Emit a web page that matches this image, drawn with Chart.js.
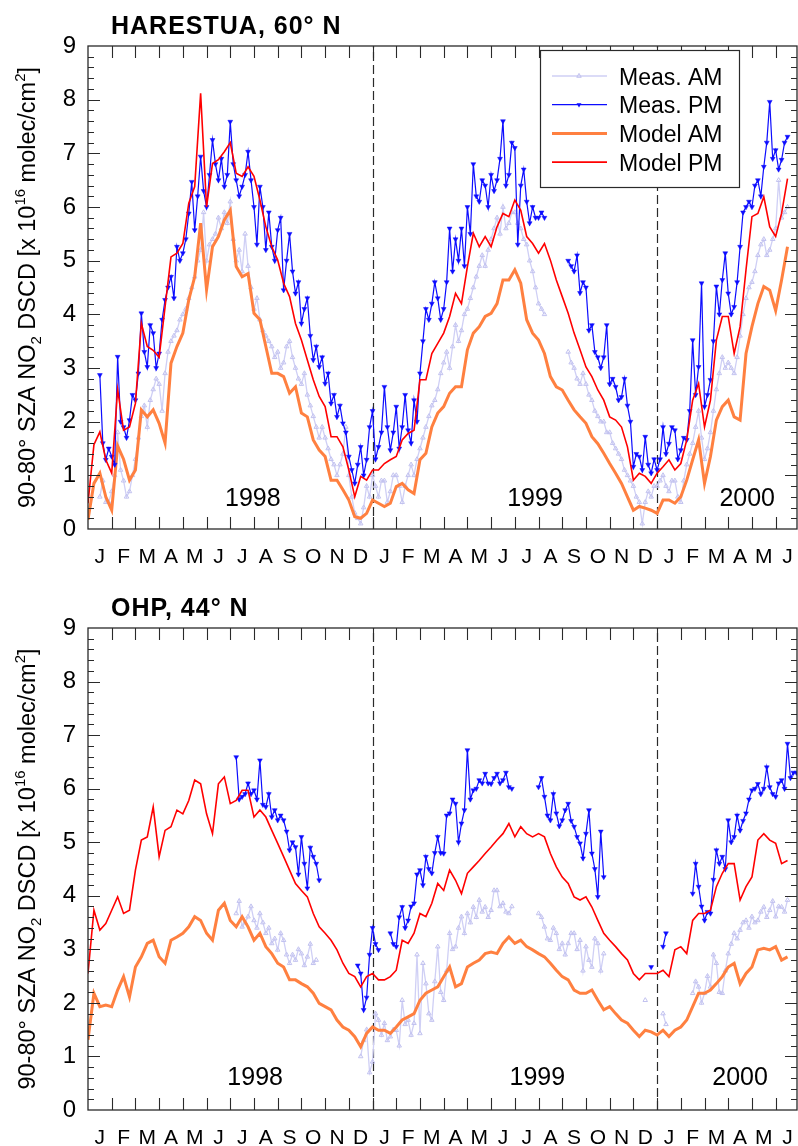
<!DOCTYPE html>
<html>
<head>
<meta charset="utf-8">
<script src="https://cdn.jsdelivr.net/npm/chart.js@4.4.1/dist/chart.umd.min.js"></script>
<style>
  html, body { margin: 0; padding: 0; background: #fff; }
  #wrap { position: relative; width: 798px; height: 1146px; }
  canvas { position: absolute; left: 0; }
  #topChart { top: 0; }
  #botChart { top: 573px; }
</style>
</head>
<body>
<div id="wrap">
  <canvas id="topChart" width="798" height="573"></canvas>
  <canvas id="botChart" width="798" height="573"></canvas>
</div>
<script>
const FONT = "'Liberation Sans', Arial, Helvetica, sans-serif";
const monthLetters = ['J', 'F', 'M', 'A', 'M', 'J', 'J', 'A', 'S', 'O', 'N', 'D'];
const measStep = 0.125;  // months between measurement samples, sample 0 = 1 Jan 1998
const modelStep = 0.25;  // months between model samples
const xMax = 29.9;

// Harestua (60 N), one row per month
const harMeasAM = [
  null, null, null, null, 0.6, 0.9, 0.5, 0.5,
  0.7, 1.0, 1.8, 1.1, 0.9, 0.6, 0.7, 1.0,
  1.3, 1.7, 2.1, 2.3, 1.9, 2.4, 2.6, 2.8,
  2.7, 2.2, 2.9, 3.3, 3.5, 3.6, 3.7, 3.9,
  4.0, 4.1, 4.3, 4.5, 4.7, 5.0, 5.2, 5.9,
  5.0, 5.3, 5.4, 5.5, 5.8, 5.6, 5.9, 5.7,
  6.1, 5.4, 5.0, 5.2, 4.8, 5.5, 4.9, 4.5,
  4.1, 4.3, 3.9, 3.7, 3.6, 3.5, 3.4, 3.2,
  3.3, 3.0, 3.1, 3.4, 3.5, 3.2, 3.0, 2.8,
  2.7, 2.9, 2.5, 2.3, 2.1, 1.9, 1.7, 1.9,
  1.7, 1.5, 1.3, 1.2, 1.0, 1.2, 1.4, 1.9,
  1.0, 0.6, 0.3, 0.2, 0.1, 0.4, 0.8, 0.6,
  1.0, 0.8, 0.6, 0.9, 0.9, 0.5, 0.7, 1.0,
  1.0, 0.8, 0.5, 0.8, 1.0, 1.2, 1.0, 1.3,
  1.5, 1.7, 1.9, 2.1, 2.3, 2.4, 2.6, 2.9,
  3.1, 3.3, 3.0, 3.4, 3.8, 3.5, 3.7, 4.0,
  4.1, 4.3, 4.5, 4.7, 4.9, 5.1, 4.9, 5.2,
  5.4, 5.6, 5.8, 5.5, 6.0, 5.6, 5.7, 5.9,
  5.9, 5.7, 5.6, 5.4, 5.3, 5.0, 4.8, 4.5,
  4.2, 4.1, 4.0, null, null, null, null, null,
  null, null, 3.3, 3.1, 3.0, 2.8, 2.7, 2.9,
  2.7, 2.5, 2.4, 2.2, 2.1, 2.0, 2.0, 1.8,
  1.8, 1.6, 1.5, 1.4, 1.3, 1.1, 1.0, 0.9,
  0.8, 0.6, 0.5, 0.1, 0.5, 0.7, 0.6, 0.8,
  0.8, 0.9, 1.0, 0.8, 0.7, 0.9, 0.9, 0.6,
  0.5, 0.9, 1.2, 1.4, 1.6, 1.9, 2.2, 1.7,
  1.3, 1.5, 1.8, 2.2, 2.6, 2.9, 3.2, 3.0,
  3.1, 3.0, 2.9, 3.2, 3.6, 4.0, 4.3, 4.5,
  4.6, 4.8, 5.1, 5.3, 5.4, 5.1, 5.2, 5.4,
  5.6, 6.5, 5.8, 5.9, 6.0, null, null, null
];
const harMeasPM = [
  null, null, null, null, 2.87, 1.6, 1.29, 1.5,
  1.35, 1.2, 3.21, 2.0, 1.9, 1.7, 2.03, 2.5,
  2.4, 2.9, 4.02, 3.3, 3.02, 3.8, 3.65, 3.0,
  3.27, 3.9, 4.27, 4.5, 4.7, 4.3, 5.26, 5.0,
  5.14, 5.4, 5.88, 6.47, 5.57, 6.2, 6.94, 6.3,
  6.0, 6.6, 7.25, 6.8, 6.5, 6.9, 6.38, 6.6,
  7.59, 6.8, 6.5, 6.2, 6.38, 6.6, 7.03, 6.5,
  6.0, 5.3, 6.38, 6.0, 5.2, 5.9, 5.26, 5.0,
  5.57, 5.8, 4.45, 5.0, 5.5, 4.8, 4.39, 4.6,
  3.83, 4.1, 4.3, 3.6, 3.15, 3.4, 3.02, 3.2,
  2.71, 2.9, 2.34, 2.5, 2.09, 2.3, 1.97, 1.8,
  1.35, 1.1, 0.85, 1.2, 1.53, 1.0, 1.29, 1.9,
  2.2, 1.3, 1.53, 1.8, 2.65, 1.9, 1.47, 1.8,
  2.28, 1.5, 1.9, 2.5, 1.84, 1.6, 2.4, 2.0,
  2.9, 3.5, 4.1, 3.9, 4.2, 4.6, 4.3, 3.9,
  4.1, 4.6, 5.6, 4.8, 5.4, 5.0, 5.6, 4.9,
  6.0, 5.5, 6.8, 6.2, 6.1, 6.5, 6.4, 6.0,
  6.6, 6.3, 6.5, 6.9, 7.6, 6.4, 6.6, 7.2,
  7.1, 5.3, 6.4, 6.7, 6.1, 5.7, 6.0, 5.8,
  5.8, 5.9, 5.8, null, null, null, null, null,
  null, null, 5.0, 4.9, 4.8, 5.1, 4.4, 4.6,
  4.5, 3.7, 3.8, 3.3, 3.2, 3.0, 3.2, 3.8,
  2.7, 2.8, 2.65, 2.4, 2.46, 2.8, 2.3, 2.0,
  1.16, 1.4, 1.35, 1.1, 1.72, 1.2, 1.04, 1.3,
  1.1, 1.3, 1.9, 1.4, 1.59, 1.9, 1.84, 1.3,
  1.47, 1.7, 1.66, 2.2, 3.52, 2.5, 3.02, 4.58,
  2.28, 2.5, 2.78, 3.5, 4.52, 4.0, 4.64, 5.14,
  4.39, 4.0, 4.14, 4.6, 5.26, 5.9, 6.0, 6.1,
  6.0, 6.4, 6.5, 6.2, 6.75, 7.2, 7.96, 6.9,
  7.06, 6.7, 6.88, 7.2, 7.31, null, null, null
];
// model rows: three months per row
const harModelAM = [
  0.17, 0.85, 1.04, 0.6, 0.35, 1.55, 1.3, 0.91, 1.1, 2.22, 2.09, 2.22,
  1.97, 1.6, 3.09, 3.4, 3.65, 4.27, 4.7, 5.7, 4.46, 5.26, 5.45, 5.76,
  5.94, 4.89, 4.7, 4.76, 4.02, 3.9, 3.4, 2.9, 2.9, 2.84, 2.53, 2.65,
  2.16, 2.09, 1.66, 1.47, 1.35, 0.91, 0.91, 0.73, 0.54, 0.23, 0.2, 0.29,
  0.54, 0.48, 0.42, 0.48, 0.79, 0.85, 0.73, 0.66, 1.29, 1.41, 1.9, 2.16,
  2.28, 2.53, 2.65, 2.65, 3.34, 3.65, 3.77, 3.96, 4.02, 4.2, 4.64, 4.64,
  4.83, 4.58, 3.9, 3.65, 3.52, 3.27, 2.84, 2.65, 2.59, 2.4, 2.22, 2.09,
  1.97, 1.72, 1.59, 1.41, 1.22, 1.04, 0.85, 0.6, 0.35, 0.42, 0.39, 0.35,
  0.29, 0.54, 0.54, 0.48, 0.6, 0.91, 1.29, 1.66, 0.85, 1.35, 2.03, 2.28,
  2.4, 2.09, 2.03, 3.27, 3.77, 4.2, 4.52, 4.45, 4.07, 4.64, 5.26, null
];
const harModelPM = [
  0.48, 1.57, 1.81, 1.29, 1.04, 2.6, 1.84, 1.9, 2.34, 3.83, 3.4, 3.33,
  3.2, 4.14, 5.07, 5.14, 5.32, 6.07, 6.38, 8.12, 6.0, 6.81, 6.88, 7.03,
  7.2, 6.63, 6.57, 6.75, 6.57, 6.13, 5.63, 5.26, 5.01, 4.58, 4.33, 3.83,
  3.52, 3.15, 2.78, 2.47, 2.28, 1.72, 1.72, 1.53, 1.1, 0.6, 0.98, 0.91,
  1.1, 1.1, 1.22, 1.29, 1.35, 1.66, 1.78, 1.84, 2.78, 2.78, 3.27, 3.46,
  3.65, 3.96, 4.39, 4.2, 4.89, 5.51, 5.26, 5.45, 5.26, 5.63, 5.88, 5.82,
  6.13, 5.94, 5.45, 5.32, 5.14, 5.32, 5.01, 4.64, 4.33, 4.02, 3.65, 3.34,
  3.02, 2.84, 2.59, 2.4, 2.09, 2.03, 1.9, 1.53, 0.91, 1.04, 0.98, 0.85,
  1.04, 1.16, 1.29, 1.1, 1.22, 1.66, 2.4, 2.71, 1.9, 2.4, 3.52, 3.96,
  3.96, 3.27, 3.77, 4.83, 5.82, 5.88, 6.19, 5.63, 5.45, 5.88, 6.53, null
];

// OHP (44 N)
const ohpMeasAM = [
  null, null, null, null, null, null, null, null,
  null, null, null, null, null, null, null, null,
  null, null, null, null, null, null, null, null,
  null, null, null, null, null, null, null, null,
  null, null, null, null, null, null, null, null,
  null, null, null, null, null, null, null, null,
  null, null, 3.67, 3.9, 3.42, 3.5, 3.61, 3.8,
  3.54, 3.4, 3.67, 3.5, 3.3, 3.4, 3.11, 3.2,
  2.99, 3.3, 3.17, 2.9, 2.74, 2.9, 2.8, 3.0,
  2.92, 2.7, 2.86, 3.1, 2.74, 2.8, null, null,
  null, null, null, null, null, null, null, null,
  null, null, null, null, 1.0, 1.3, 1.5, 0.7,
  0.9, 1.8, 1.68, 1.4, 1.62, 1.3, 1.37, 1.5,
  1.49, 1.2, 2.05, 1.6, 1.68, 1.4, 1.62, 2.9,
  1.43, 2.74, 2.36, 1.8, 1.68, 2.4, 3.05, 2.2,
  2.05, 2.6, 3.3, 3.0, 3.05, 3.4, 3.61, 3.3,
  3.67, 3.5, 3.79, 3.6, 3.92, 3.7, 3.79, 3.6,
  3.73, 4.1, 4.1, 3.8, 3.86, 3.7, 3.67, 3.8,
  null, null, null, null, null, null, null, null,
  3.67, 3.6, 3.42, 3.2, 3.17, 3.4, 3.3, 3.0,
  3.11, 2.9, 3.11, 3.3, 3.3, 3.0, 3.17, 2.6,
  3.05, 2.8, 2.67, 3.2, 3.11, 2.6, 2.92, null,
  null, null, null, null, null, null, null, null,
  null, null, null, null, 2.05, null, null, null,
  null, null, 1.8, 1.6, null, null, null, null,
  null, null, null, null, 2.18, 2.4, 2.3, 2.0,
  2.18, 2.5, 2.3, 2.9, 2.74, 2.2, 2.18, 2.6,
  2.92, 3.1, 3.3, 3.2, 3.36, 3.5, 3.54, 3.4,
  3.61, 3.5, 3.54, 3.7, 3.79, 3.6, 3.73, 3.9,
  3.61, 3.8, 3.79, 3.7, 3.92, null, null, null
];
const ohpMeasPM = [
  null, null, null, null, null, null, null, null,
  null, null, null, null, null, null, null, null,
  null, null, null, null, null, null, null, null,
  null, null, null, null, null, null, null, null,
  null, null, null, null, null, null, null, null,
  null, null, null, null, null, null, null, null,
  null, null, 6.59, 5.8, 5.85, 5.9, 6.1, 5.9,
  5.97, 5.8, 6.53, 5.7, 5.66, 5.9, 5.47, 5.6,
  5.41, 5.5, 5.41, 5.2, 4.85, 5.0, 4.91, 4.4,
  5.1, 4.6, 4.14, 4.9, 4.73, 4.6, 4.29, null,
  null, null, null, null, null, null, null, null,
  null, null, null, 2.7, 2.55, 1.87, 2.1, 2.9,
  3.4, 3.1, 2.99, null, null, null, 3.3, 3.1,
  3.05, 3.6, 3.79, 3.4, 3.54, 3.8, 3.86, 4.4,
  4.48, 4.2, 4.73, 4.5, 4.42, 4.8, 5.1, 4.8,
  4.79, 5.5, 5.54, 5.8, 5.72, 5.0, 5.35, 5.6,
  6.72, 5.8, 5.97, 6.0, 6.16, 6.1, 6.28, 6.1,
  6.09, 6.2, 6.28, 6.1, 6.16, 6.3, 6.03, 6.0,
  null, null, null, null, null, null, null, null,
  6.03, 6.2, 5.85, 5.5, 5.41, 5.9, 5.54, 5.3,
  5.41, 5.6, 5.72, 5.4, 5.29, 5.1, 4.98, 4.7,
  5.16, 5.6, 4.79, 4.5, 3.98, 5.2, 4.35, null,
  null, null, null, null, null, null, null, null,
  null, null, null, null, null, null, 2.67, null,
  null, null, 3.05, 3.3, null, null, null, null,
  null, null, null, null, 4.04, 4.6, 4.17, 3.8,
  3.54, 3.7, 3.67, 4.3, 4.85, 4.6, 4.73, 4.5,
  5.41, 5.0, 5.1, 5.5, 5.22, 5.4, 5.54, 5.8,
  5.97, 6.0, 6.09, 5.9, 6.0, 6.4, 6.03, 5.9,
  5.85, 6.1, 6.16, 6.0, 6.84, 6.2, 6.3, 6.3
];
const ohpModelAM = [
  1.31, 2.18, 1.93, 1.96, 1.93, 2.24, 2.49, 2.11, 2.67, 2.86, 3.11, 3.17,
  2.86, 2.74, 3.17, 3.23, 3.3, 3.42, 3.61, 3.54, 3.3, 3.17, 3.73, 3.86,
  3.54, 3.42, 3.61, 3.42, 3.17, 3.3, 3.05, 2.92, 2.74, 2.67, 2.43, 2.43,
  2.36, 2.3, 2.18, 1.99, 1.93, 1.87, 1.68, 1.55, 1.49, 1.37, 1.18, 1.43,
  1.55, 1.49, 1.49, 1.43, 1.55, 1.68, 1.74, 1.8, 2.05, 2.18, 2.24, 2.3,
  2.49, 2.67, 2.3, 2.36, 2.67, 2.74, 2.8, 2.92, 2.95, 2.92, 3.11, 3.23,
  3.11, 3.17, 3.05, 2.99, 2.92, 2.86, 2.74, 2.61, 2.49, 2.43, 2.24, 2.18,
  2.18, 2.24, 2.05, 1.87, 1.93, 1.8, 1.68, 1.62, 1.49, 1.37, 1.49, 1.46,
  1.4, 1.49, 1.37, 1.49, 1.55, 1.68, 1.93, 2.18, 2.18, 2.24, 2.36, 2.49,
  2.67, 2.74, 2.36, 2.55, 2.67, 2.99, 3.02, 2.99, 3.05, 2.8, 2.86, null
];
const ohpModelPM = [
  2.55, 3.73, 3.36, 3.48, 3.73, 3.98, 3.67, 3.73, 4.48, 5.04, 5.1, 5.66,
  4.73, 5.22, 5.29, 5.6, 5.53, 5.78, 6.16, 6.09, 5.53, 5.16, 6.09, 6.22,
  5.72, 5.78, 5.97, 5.97, 5.47, 5.6, 5.47, 5.22, 4.98, 4.73, 4.48, 4.23,
  4.1, 3.98, 3.67, 3.42, 3.3, 3.17, 2.99, 2.74, 2.55, 2.49, 2.3, 2.49,
  2.55, 2.43, 2.43, 2.49, 2.61, 3.17, 3.11, 3.3, 3.67, 3.61, 3.86, 4.23,
  4.1, 4.48, 4.29, 4.04, 4.42, 4.54, 4.66, 4.79, 4.91, 5.04, 5.16, 5.35,
  5.1, 5.29, 5.16, 5.1, 5.16, 5.1, 4.79, 4.54, 4.35, 4.23, 3.98, 3.92,
  3.98, 3.79, 3.54, 3.3, 3.17, 3.05, 2.92, 2.8, 2.55, 2.43, 2.55, 2.55,
  2.55, 2.61, 2.49, 2.99, 3.05, 2.92, 3.54, 3.67, 3.67, 3.73, 4.17, 4.42,
  4.6, 4.6, 3.92, 4.17, 4.35, 5.04, 5.16, 5.04, 4.98, 4.6, 4.66, null
];

const colMeasAM = '#cfcff5';
const colMeasPM = '#0c0cff';
const colModelAM = '#ff8040';
const colModelPM = '#ff0000';
const frameCol = '#2a2a2a';

function toPoints(vals, st) {
  return vals.map((v, i) => ({ x: i * st, y: v }));
}

function tri(ctx, x, y, r, down) {
  const s = down ? -1 : 1;
  ctx.beginPath();
  ctx.moveTo(x, y - s * r);
  ctx.lineTo(x - r * 0.866, y + s * r * 0.5);
  ctx.lineTo(x + r * 0.866, y + s * r * 0.5);
  ctx.closePath();
}

function drawYTitle(ctx, cx, cy) {
  // rotated axis title with sub/superscripts
  const big = '23.5px ' + FONT, small = '15px ' + FONT;
  const parts = [
    ['90-80° SZA NO', big, 0], ['2', small, 6], [' DSCD [x 10', big, 0], ['16', small, -10],
    [' molec/cm', big, 0], ['2', small, -10], [']', big, 0]
  ];
  ctx.save();
  ctx.translate(cx, cy);
  ctx.rotate(-Math.PI / 2);
  ctx.fillStyle = '#000';
  ctx.textBaseline = 'alphabetic';
  ctx.textAlign = 'left';
  let total = 0;
  parts.forEach(p => { ctx.font = p[1]; total += ctx.measureText(p[0]).width; });
  let px = -total / 2;
  parts.forEach(p => {
    ctx.font = p[1];
    ctx.fillText(p[0], px, 8 + p[2]);
    px += ctx.measureText(p[0]).width;
  });
  ctx.restore();
}

function drawLegend(ctx, datasets) {
  const bx = 540, by = 50, bw = 199, bh = 137;
  ctx.save();
  ctx.fillStyle = '#fff';
  ctx.fillRect(bx, by, bw, bh);
  ctx.strokeStyle = frameCol;
  ctx.lineWidth = 1.2;
  ctx.strokeRect(bx + 0.5, by + 0.5, bw, bh);
  datasets.forEach((ds, i) => {
    const y = 76 + i * 28.7;
    ctx.strokeStyle = ds.borderColor;
    ctx.lineWidth = ds.borderWidth;
    ctx.beginPath();
    ctx.moveTo(552, y);
    ctx.lineTo(607, y);
    ctx.stroke();
    if (ds.pointRadius > 0) {
      tri(ctx, 579, y, ds.pointRadius, ds.pointRotation === 180);
      if (ds.pointRotation === 180) {
        ctx.fillStyle = ds.pointBackgroundColor;
        ctx.fill();
      } else {
        ctx.lineWidth = 1;
        ctx.strokeStyle = ds.pointBorderColor;
        ctx.stroke();
      }
    }
    ctx.fillStyle = '#000';
    ctx.font = '23px ' + FONT;
    ctx.textBaseline = 'alphabetic';
    ctx.fillText(ds.label, 619, y + 8.5);
  });
  ctx.restore();
}

const panelDecor = {
  id: 'panelDecor',
  beforeDatasetsDraw(chart, args, o) {
    const { ctx, chartArea: a, scales: { x } } = chart;
    ctx.save();
    ctx.strokeStyle = frameCol;
    ctx.lineWidth = 1.2;
    ctx.setLineDash([9, 4]);
    [12, 24].forEach(m => {
      const px = Math.round(x.getPixelForValue(m)) + 0.5;
      ctx.beginPath();
      ctx.moveTo(px, a.bottom);
      ctx.lineTo(px, a.top);
      ctx.stroke();
    });
    ctx.restore();
  },
  afterDatasetsDraw(chart, args, o) {
    const { ctx, chartArea: a, scales: { x, y } } = chart;
    ctx.save();
    ctx.strokeStyle = frameCol;
    ctx.lineWidth = 1.3;
    ctx.strokeRect(a.left, a.top, a.right - a.left, a.bottom - a.top);
    ctx.lineWidth = 1.1;
    ctx.beginPath();
    for (let m = 1; m < 30; m++) {
      const px = Math.round(x.getPixelForValue(m)) + 0.5;
      ctx.moveTo(px, a.bottom); ctx.lineTo(px, a.bottom - 12);
      ctx.moveTo(px, a.top); ctx.lineTo(px, a.top + 12);
    }
    for (let k = 1; k < 45; k++) {
      const py = Math.round(y.getPixelForValue(k * 0.2)) + 0.5;
      const len = k % 5 === 0 ? 12 : 6;
      ctx.moveTo(a.left, py); ctx.lineTo(a.left + len, py);
      ctx.moveTo(a.right, py); ctx.lineTo(a.right - len, py);
    }
    ctx.stroke();

    ctx.fillStyle = '#000';
    ctx.textBaseline = 'alphabetic';
    ctx.textAlign = 'center';
    // month initials centred in each month
    ctx.font = '21px ' + FONT;
    for (let m = 0; m < 30; m++) {
      ctx.fillText(monthLetters[m % 12], x.getPixelForValue(m + 0.5), a.bottom + 33.5);
    }
    ctx.font = '25px ' + FONT;
    o.years.forEach(yr => {
      ctx.fillText(yr.text, x.getPixelForValue(yr.at), a.bottom - o.yearLift);
    });
    ctx.restore();

    if (o.legend) drawLegend(ctx, chart.data.datasets);
  },
  afterDraw(chart, args, o) {
    const { ctx, chartArea: a } = chart;
    ctx.save();
    ctx.fillStyle = '#000';
    ctx.font = 'bold 25px ' + FONT;
    ctx.letterSpacing = '1px';
    ctx.textAlign = 'left';
    ctx.textBaseline = 'alphabetic';
    ctx.fillText(o.title, 111, a.top - 12);
    ctx.restore();
    drawYTitle(ctx, 27, (a.top + a.bottom) / 2);
  }
};

function buildChart(id, series, opts) {
  const datasets = [
    {
      label: 'Meas. AM', data: toPoints(series.measAM, measStep), order: 4,
      borderColor: colMeasAM, borderWidth: 1.3,
      pointStyle: 'triangle', pointRadius: 2.6, pointRotation: 0,
      pointBackgroundColor: 'rgba(255,255,255,0)', pointBorderColor: '#c2c2ef', pointBorderWidth: 1
    },
    {
      label: 'Meas. PM', data: toPoints(series.measPM, measStep), order: 2,
      borderColor: colMeasPM, borderWidth: 1.2,
      pointStyle: 'triangle', pointRadius: 2.8, pointRotation: 180,
      pointBackgroundColor: colMeasPM, pointBorderColor: colMeasPM, pointBorderWidth: 0.5
    },
    {
      label: 'Model AM', data: toPoints(series.modelAM, modelStep), order: 3,
      borderColor: colModelAM, borderWidth: 3, pointRadius: 0
    },
    {
      label: 'Model PM', data: toPoints(series.modelPM, modelStep), order: 1,
      borderColor: colModelPM, borderWidth: 1.6, pointRadius: 0
    }
  ];
  return new Chart(document.getElementById(id), {
    type: 'line',
    data: { datasets: datasets },
    options: {
      responsive: false,
      animation: false,
      events: [],
      layout: { autoPadding: false, padding: { left: 0, right: 1, top: opts.padTop, bottom: 0 } },
      elements: { line: { tension: 0 } },
      plugins: {
        legend: { display: false },
        tooltip: { enabled: false },
        panelDecor: opts.decor
      },
      scales: {
        x: {
          type: 'linear', min: 0, max: xMax,
          grid: { display: false, drawTicks: false },
          border: { display: false },
          ticks: { display: false },
          afterFit: s => { s.height = opts.xHeight; }
        },
        y: {
          min: 0, max: 9,
          grid: { display: false, drawTicks: false },
          border: { display: false },
          ticks: { stepSize: 1, padding: 12, color: '#000', font: { family: FONT, size: 24 } },
          afterFit: s => { s.width = 88; }
        }
      }
    },
    plugins: [panelDecor]
  });
}

buildChart('topChart',
  { measAM: harMeasAM, measPM: harMeasPM, modelAM: harModelAM, modelPM: harModelPM },
  {
    padTop: 46, xHeight: 44,
    decor: {
      title: 'HARESTUA, 60° N', legend: true, yearLift: 23,
      years: [{ text: '1998', at: 6.95 }, { text: '1999', at: 18.85 }, { text: '2000', at: 27.8 }]
    }
  });

buildChart('botChart',
  { measAM: ohpMeasAM, measPM: ohpMeasPM, modelAM: ohpModelAM, modelPM: ohpModelPM },
  {
    padTop: 55, xHeight: 36,
    decor: {
      title: 'OHP, 44° N', legend: false, yearLift: 25,
      years: [{ text: '1998', at: 7.05 }, { text: '1999', at: 18.95 }, { text: '2000', at: 27.5 }]
    }
  });
</script>
</body>
</html>
